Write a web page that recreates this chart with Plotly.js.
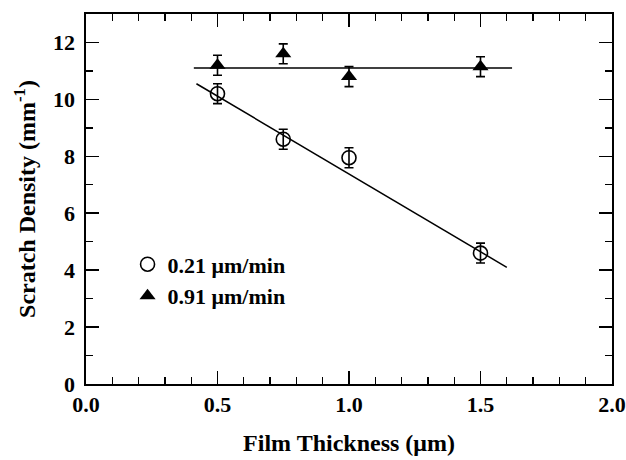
<!DOCTYPE html>
<html>
<head>
<meta charset="utf-8">
<script src="https://cdn.plot.ly/plotly-3.0.1.min.js"></script>
<style>html,body{margin:0;padding:0;background:#fff;}#chart{width:626px;height:460px;}</style>
</head>
<body>
<div id="chart"></div>
<script>
// Data
const thickness = [0.5, 0.75, 1.0, 1.5];
const slowRate = [10.2, 8.6, 7.95, 4.6];      // 0.21 um/min (open circles)
const slowErr = [0.35, 0.35, 0.35, 0.35];
const fastRate = [11.2, 11.6, 10.8, 11.15];   // 0.91 um/min (filled triangles)
const fastErr = [0.35, 0.35, 0.35, 0.35];
const slowFitX = [0.42, 1.6];
const slowFitY = [10.55, 4.1];
const fastFitX = [0.41, 1.62];
const fastFitY = [11.1, 11.1];
const seriesNames = ['0.21 \u03bcm/min', '0.91 \u03bcm/min'];

const font = {family: 'Liberation Serif, Times New Roman, serif', color: '#000'};
const traces = [
  {x: slowFitX, y: slowFitY, mode: 'lines', line: {color: '#000', width: 1.5}, showlegend: false, hoverinfo: 'skip'},
  {x: fastFitX, y: fastFitY, mode: 'lines', line: {color: '#000', width: 1.5}, showlegend: false, hoverinfo: 'skip'},
  {x: thickness, y: slowRate, name: seriesNames[0], mode: 'markers',
   marker: {symbol: 'circle-open', size: 14, color: '#000', line: {width: 1.6, color: '#000'}},
   error_y: {type: 'data', array: slowErr, visible: true, color: '#000', thickness: 1.6, width: 4.5}},
  {x: thickness, y: fastRate, name: seriesNames[1], mode: 'markers',
   marker: {symbol: 'triangle-up', size: 14, color: '#000'},
   error_y: {type: 'data', array: fastErr, visible: true, color: '#000', thickness: 1.6, width: 4.5}}
];

const axisCommon = {
  showgrid: false, zeroline: false, showline: true, linecolor: '#000', linewidth: 1.6,
  mirror: 'allticks', ticks: 'inside', tickcolor: '#000', tickwidth: 1.5, ticklen: 13,
  tickfont: {family: font.family, size: 22, color: '#000', weight: 'bold'}
};

const layout = {
  width: 626, height: 460,
  margin: {l: 86, r: 14, t: 14, b: 76},
  paper_bgcolor: '#fff', plot_bgcolor: '#fff',
  font: font,
  xaxis: Object.assign({}, axisCommon, {
    range: [0, 2], dtick: 0.5, tickformat: '.1f',
    minor: {dtick: 0.1, ticks: 'inside', ticklen: 7, tickcolor: '#000', tickwidth: 1.3},
    title: {text: '<b>Film Thickness (\u03bcm)</b>', font: {family: font.family, size: 24, color: '#000'}, standoff: 18}
  }),
  yaxis: Object.assign({}, axisCommon, {
    range: [0, 13], dtick: 2, ticklabelstandoff: 5,
    minor: {dtick: 1, ticks: 'inside', ticklen: 7, tickcolor: '#000', tickwidth: 1.3},
    title: {text: '<b>Scratch Density (mm<sup>-1</sup>)</b>', font: {family: font.family, size: 24, color: '#000'}, standoff: 10}
  }),
  showlegend: true,
  legend: {x: 0.079, y: 0.38, xanchor: 'left', yanchor: 'top', bgcolor: 'rgba(0,0,0,0)',
           font: {family: font.family, size: 22, color: '#000', weight: 'bold'}, tracegroupgap: 0, itemwidth: 30}
};

Plotly.newPlot('chart', traces, layout, {displayModeBar: false, staticPlot: true});
</script>
</body>
</html>
